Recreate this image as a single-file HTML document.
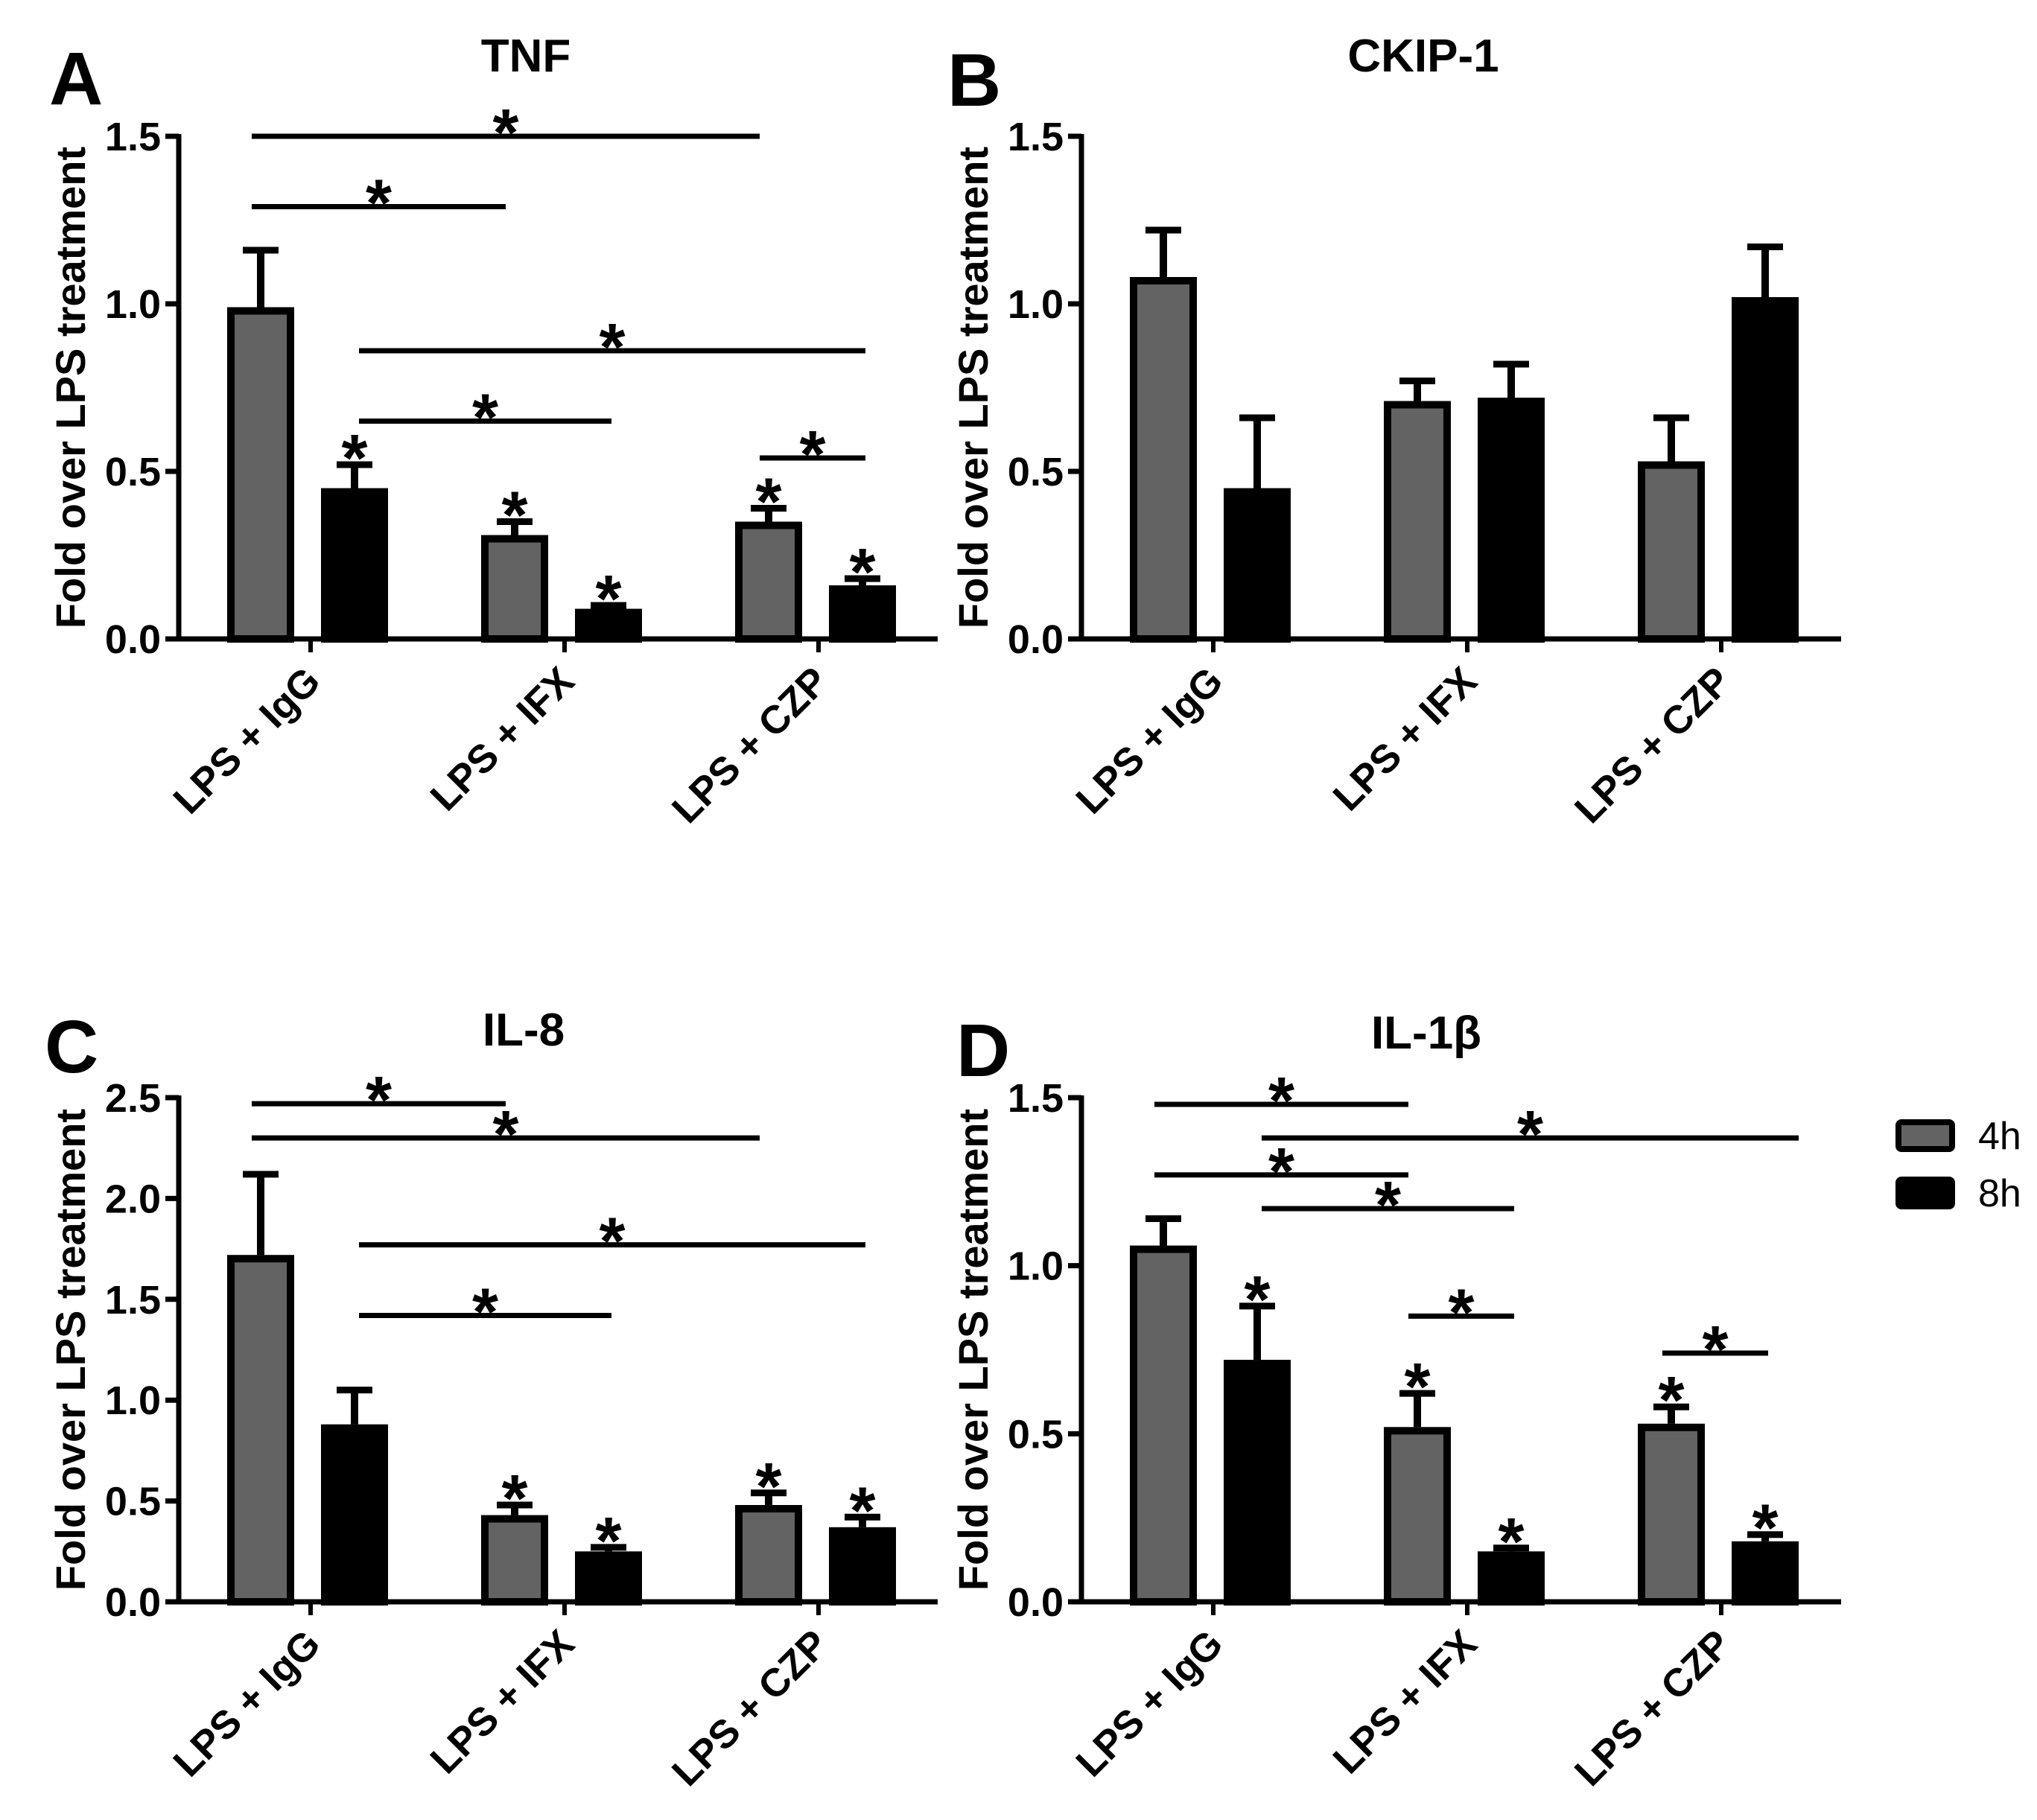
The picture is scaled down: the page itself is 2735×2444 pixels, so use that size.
<!DOCTYPE html>
<html><head><meta charset="utf-8"><style>
html,body{margin:0;padding:0;background:#fff;}
svg{display:block;font-family:"Liberation Sans",Arial,sans-serif;}
</style></head><body>
<svg id="fig" width="2735" height="2444" viewBox="0 0 2735 2444" xmlns="http://www.w3.org/2000/svg"></svg>
<script>
const categories = ["LPS + IgG","LPS + IFX","LPS + CZP"];
const seriesNames = ["4h","8h"];
// TNF
const tnf4h = [0.99,0.31,0.35], tnf4hErr = [1.16,0.35,0.39];
const tnf8h = [0.45,0.09,0.16], tnf8hErr = [0.52,0.10,0.18];
// CKIP-1
const ckip4h = [1.08,0.71,0.53], ckip4hErr = [1.22,0.77,0.66];
const ckip8h = [0.45,0.72,1.02], ckip8hErr = [0.66,0.82,1.17];
// IL-8
const il8_4h = [1.72,0.43,0.48], il8_4hErr = [2.12,0.48,0.54];
const il8_8h = [0.88,0.25,0.37], il8_8hErr = [1.05,0.27,0.42];
// IL-1b
const il1_4h = [1.06,0.52,0.53], il1_4hErr = [1.14,0.62,0.58];
const il1_8h = [0.72,0.15,0.18], il1_8hErr = [0.88,0.16,0.20];
// tick labels
const ticks15 = ["0.0","0.5","1.0","1.5"];
const ticks25 = ["0.0","0.5","1.0","1.5","2.0","2.5"];
// significance brackets: [group1, series1, group2, series2, value, extendsToBarEdge]
const tnfSig = [[0,0,2,0,1.5,0],[0,0,1,0,1.29,0],[0,1,2,1,0.86,0],[0,1,1,1,0.65,0],[2,0,2,1,0.54,0]];
const tnfBarStars = [[0,1],[1,0],[1,1],[2,0],[2,1]];
const ckipSig = [], ckipBarStars = [];
const il8Sig = [[0,0,1,0,2.47,0],[0,0,2,0,2.30,0],[0,1,2,1,1.77,0],[0,1,1,1,1.42,0]];
const il8BarStars = [[1,0],[1,1],[2,0],[2,1]];
const il1Sig = [[0,0,1,0,1.48,0],[0,1,2,1,1.38,1],[0,0,1,0,1.27,0],[0,1,1,1,1.17,0],[1,0,1,1,0.85,0],[2,0,2,1,0.74,0]];
const il1BarStars = [[0,1],[1,0],[1,1],[2,0],[2,1]];

const NS="http://www.w3.org/2000/svg";
const svg=document.getElementById('fig');
function mk(tag,attrs,parent){const e=document.createElementNS(NS,tag);for(const k in attrs)e.setAttribute(k,attrs[k]);(parent||svg).appendChild(e);return e;}

const panels=[
 {letter:"A",title:"TNF",ax:240,top:183,bot:858,right:1259,max:1.5,ticks:ticks15,v:[tnf4h,tnf8h],e:[tnf4hErr,tnf8hErr],sig:tnfSig,bs:tnfBarStars,lx:66,ly:140,tx:706,ty:96,name:"tnf"},
 {letter:"B",title:"CKIP-1",ax:1452,top:183,bot:858,right:2472,max:1.5,ticks:ticks15,v:[ckip4h,ckip8h],e:[ckip4hErr,ckip8hErr],sig:ckipSig,bs:ckipBarStars,lx:1272,ly:142,tx:1911,ty:96,name:"ckip1"},
 {letter:"C",title:"IL-8",ax:240,top:1474,bot:2151,right:1259,max:2.5,ticks:ticks25,v:[il8_4h,il8_8h],e:[il8_4hErr,il8_8hErr],sig:il8Sig,bs:il8BarStars,lx:60,ly:1440,tx:703,ty:1404,name:"il8"},
 {letter:"D",title:"IL-1β",ax:1452,top:1474,bot:2151,right:2472,max:1.5,ticks:ticks15,v:[il1_4h,il1_8h],e:[il1_4hErr,il1_8hErr],sig:il1Sig,bs:il1BarStars,lx:1284,ly:1445,tx:1915,ty:1408,name:"il1b"}
];
const fills=["#636363","#000000"];

panels.forEach(p=>{
 const g=mk('g',{});
 
 
 const yS=v=>p.bot-(v/p.max)*(p.bot-p.top);
 const center=(gi)=>p.ax+177+gi*341;
 const barX=(gi,s)=>center(gi)+(s===0?-112:14);
 const barC=(gi,s)=>barX(gi,s)+45;
 const bw=90;
 let t=mk('text',{x:p.lx,y:p.ly,'font-size':100,'font-weight':'bold'},g);t.textContent=p.letter;
 
 
 t=mk('text',{x:p.tx,y:p.ty,'font-size':62,'font-weight':'bold','text-anchor':'middle'},g);t.textContent=p.title;
 
 
 const cy=(p.top+p.bot)/2;
 const yx=p.ax-146;
 t=mk('text',{x:yx,y:cy,'font-size':56,'font-weight':'bold','text-anchor':'middle',transform:`rotate(-90 ${yx} ${cy})`,dy:20},g);
 t.textContent="Fold over LPS treatment";
 
 
 [0,1].forEach(s=>{
  p.v[s].forEach((val,gi)=>{
   const x=barX(gi,s),y=yS(val),et=yS(p.e[s][gi]);
   const c=barC(gi,s);
   const el=mk('line',{x1:c,x2:c,y1:y,y2:et,stroke:'#000','stroke-width':10},g);
   
   
   const cap=mk('line',{x1:c-24,x2:c+24,y1:et,y2:et,stroke:'#000','stroke-width':9},g);
   
   
   const r=mk('rect',{x:x+5,y:y+5,width:bw-10,height:Math.max(0,p.bot-y-5),fill:fills[s],stroke:'#000','stroke-width':10},g);
   
   
  });
 });
 const ya=mk('line',{x1:p.ax,x2:p.ax,y1:p.top-3,y2:p.bot+3,stroke:'#000','stroke-width':7},g);
 
 
 const xa=mk('line',{x1:p.ax-3,x2:p.right,y1:p.bot,y2:p.bot,stroke:'#000','stroke-width':7},g);
 
 
 p.ticks.forEach((lab,i)=>{
  const y=yS(i*0.5);
  const tk=mk('line',{x1:p.ax-18,x2:p.ax,y1:y,y2:y,stroke:'#000','stroke-width':7},g);
  
  
  const tt=mk('text',{x:p.ax-24,y:y+19,'font-size':54,'font-weight':'bold','text-anchor':'end'},g);tt.textContent=lab;
  
  
 });
 categories.forEach((lab,gi)=>{
  const x=center(gi);
  const tk=mk('line',{x1:x,x2:x,y1:p.bot,y2:p.bot+18,stroke:'#000','stroke-width':6},g);
  
  
  const tx=x+16,ty=p.bot+60;
  const tt=mk('text',{x:tx,y:ty,'font-size':53,'font-weight':'bold','text-anchor':'end',transform:`rotate(-45 ${tx} ${ty})`},g);
  tt.textContent=lab;
  
  
 });
 p.sig.forEach(sg=>{
  const x1=barC(sg[0],sg[1])-(sg[1]===0?12:-6);
  const x2=sg[5]?barX(sg[2],sg[3])+bw:barC(sg[2],sg[3])-(sg[3]===0?12:-4);
  const y=yS(sg[4]);
  const l=mk('line',{x1:x1,x2:x2,y1:y,y2:y,stroke:'#000','stroke-width':7},g);
  
  
  const st=mk('text',{x:(x1+x2)/2,y:y+26,'font-size':90,'font-weight':'bold','text-anchor':'middle'},g);st.textContent="*";
  
  
 });
 p.bs.forEach(b=>{
  const c=barC(b[0],b[1]),et=yS(p.e[b[1]][b[0]]);
  const st=mk('text',{x:c,y:et+22,'font-size':90,'font-weight':'bold','text-anchor':'middle'},g);st.textContent="*";
  
  
 });
});
const lg=mk('g',{});


seriesNames.forEach((n,i)=>{
 const y=1507+i*77;
 const r=mk('rect',{x:2549,y:y,width:72,height:36,rx:4,fill:fills[i],stroke:'#000','stroke-width':8},lg);
 
 
 const t=mk('text',{x:2656,y:y+36,'font-size':52},lg);t.textContent=n;
 
 
});
</script>
</body></html>
